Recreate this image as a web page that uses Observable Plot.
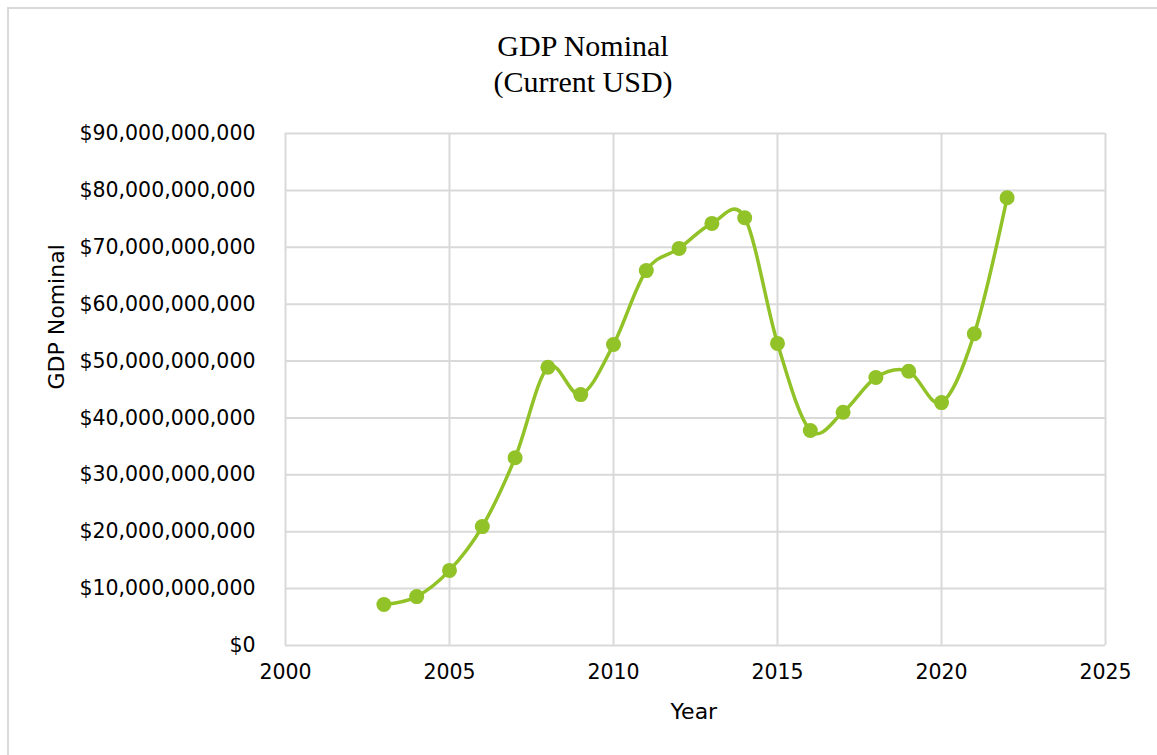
<!DOCTYPE html>
<html>
<head>
<meta charset="utf-8">
<script src="https://cdn.jsdelivr.net/npm/d3@7"></script>
<script src="https://cdn.jsdelivr.net/npm/@observablehq/plot@0.6"></script>
<style>
  html, body { margin: 0; padding: 0; background: #fff; }
  #frame { position: absolute; left: 7px; top: 7px; width: 1160px; height: 760px; border-left: 2px solid #d9d9d9; border-top: 2px solid #d9d9d9; box-sizing: border-box; }
  #title { position: absolute; left: 0; top: 0; width: 1166px; text-align: center; font-family: "Liberation Serif", "Times New Roman", serif; font-size: 30px; line-height: 36px; color: #000; padding-top: 28px; }
  #chart { position: absolute; left: 0; top: 100px; }
  #chart svg { font-family: "DejaVu Sans", sans-serif; }
</style>
</head>
<body>
<div id="frame"></div>
<div id="title">GDP Nominal<br>(Current USD)</div>
<div id="chart"></div>
<script>
const years = [2003, 2004, 2005, 2006, 2007, 2008, 2009, 2010, 2011, 2012, 2013, 2014, 2015, 2016, 2017, 2018, 2019, 2020, 2021, 2022];
const gdpBillions = [7.2, 8.6, 13.2, 20.9, 33.0, 48.9, 44.1, 52.9, 65.9, 69.8, 74.2, 75.2, 53.1, 37.8, 41.0, 47.1, 48.2, 42.7, 54.8, 78.7];
const xTicks = [2000, 2005, 2010, 2015, 2020, 2025];
const yTicks = [0, 10e9, 20e9, 30e9, 40e9, 50e9, 60e9, 70e9, 80e9, 90e9];

const data = years.map((y, i) => ({year: y, gdp: gdpBillions[i] * 1e9}));
const green = "#91c227";
const grid = "#d9d9d9";
const fmt = v => "$" + d3.format(",")(v);

const plot = Plot.plot({
  width: 1157,
  height: 655,
  marginLeft: 285,
  marginRight: 52,
  marginTop: 33,
  marginBottom: 110,
  x: {domain: [2000, 2025]},
  y: {domain: [0, 90e9]},
  style: {fontSize: "20.5px", fontFamily: "DejaVu Sans, sans-serif", color: "#000"},
  marks: [
    Plot.ruleY(yTicks, {stroke: grid, strokeWidth: 2}),
    Plot.ruleX(xTicks, {stroke: grid, strokeWidth: 2}),
    Plot.axisY({ticks: yTicks, tickFormat: fmt, tickSize: 0, tickPadding: 30, label: null, fontSize: 20.5}),
    Plot.axisX({ticks: xTicks, tickFormat: d => String(d), tickSize: 0, tickPadding: 19, label: null, fontSize: 20.5}),
    Plot.text(["Year"], {frameAnchor: "bottom", x: () => 2012.45, dy: 73, fontSize: 22, textAnchor: "middle"}),
    Plot.text(["GDP Nominal"], {frameAnchor: "left", dx: -229, rotate: -90, fontSize: 22}),
    Plot.line(data, {x: "year", y: "gdp", stroke: green, strokeWidth: 3.5, curve: "cardinal", tension: 0}),
    Plot.dot(data, {x: "year", y: "gdp", fill: green, r: 7.5})
  ]
});
document.getElementById("chart").appendChild(plot);
</script>
</body>
</html>
